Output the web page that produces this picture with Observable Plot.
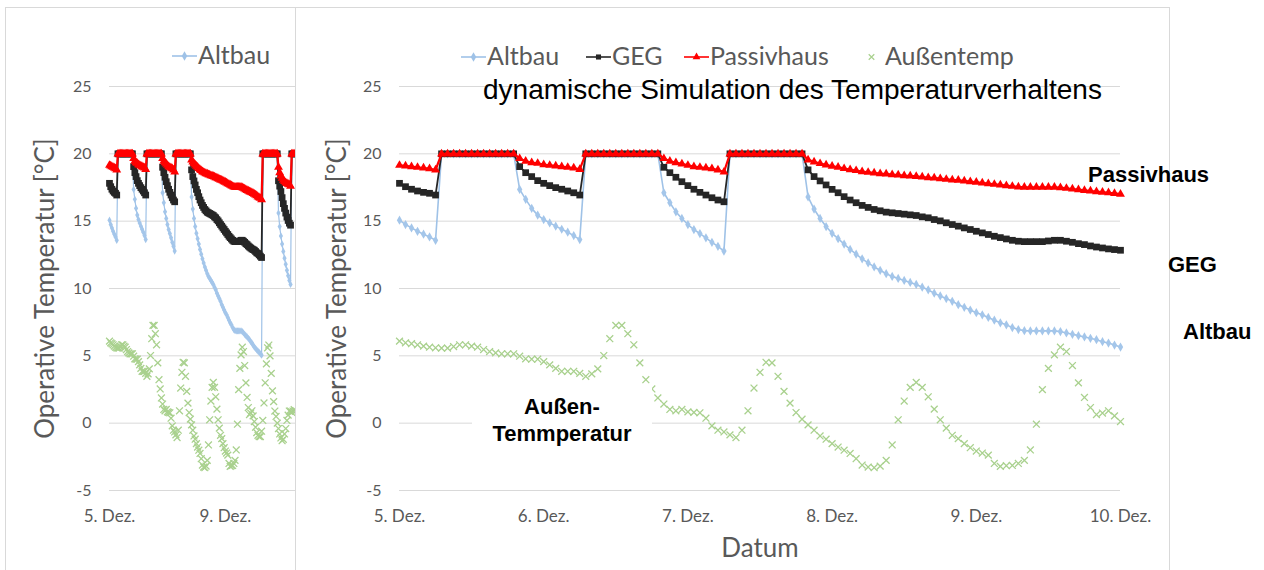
<!DOCTYPE html>
<html><head><meta charset="utf-8">
<script src="https://cdn.jsdelivr.net/npm/d3@7"></script>
<script src="https://cdn.jsdelivr.net/npm/@observablehq/plot@0.6"></script>
<style>
body{margin:0;background:#fff;}
#wrap{position:relative;width:1264px;height:570px;overflow:hidden;background:#fff;font-family:Lato,"Open Sans",sans-serif;}
.note{position:absolute;font-family:"Liberation Sans",Arial,sans-serif;font-weight:bold;font-size:22px;line-height:22px;color:#000;white-space:nowrap;}
.leg{position:absolute;font-family:Lato,"Open Sans",sans-serif;font-size:25px;color:#595959;white-space:nowrap;height:30px;line-height:30px;}
</style></head>
<body><div id="wrap"></div>
<script>
// ---------- data ----------
const hoursMain = d3.range(0, 121);          // hours since 5. Dez. 00:00
const hoursExt = d3.range(121, 155);         // continuation shown in left (cropped) chart
const dayTicks = [0, 24, 48, 72, 96, 120];
const dayLabels = ["5. Dez.", "6. Dez.", "7. Dez.", "8. Dez.", "9. Dez.", "10. Dez."];
const leftTicks = [0, 96];
const leftLabels = ["5. Dez.", "9. Dez."];
const yTicks = [-5, 0, 5, 10, 15, 20, 25];
const yLabels = ["-5", "0", "5", "10", "15", "20", "25"];
const seriesNames = ["Altbau", "GEG", "Passivhaus", "Außentemp"];

const altbau = [15.07, 14.75, 14.5, 14.25, 14.03, 13.83, 13.58,
  20, 20, 20, 20, 20, 20, 20, 20, 20, 20, 20, 20, 20,
  17.36, 16.62, 15.95, 15.45, 15.12, 14.87, 14.63, 14.40, 14.18, 13.93, 13.63,
  20, 20, 20, 20, 20, 20, 20, 20, 20, 20, 20, 20, 20,
  17.11, 16.37, 15.69, 15.20, 14.75, 14.38, 14.08, 13.76, 13.43, 13.13, 12.78,
  20, 20, 20, 20, 20, 20, 20, 20, 20, 20, 20, 20, 20,
  16.8, 15.9, 15.2, 14.6, 14.1, 13.7, 13.3, 12.9, 12.55, 12.2, 11.9, 11.6, 11.35, 11.1, 10.9, 10.75, 10.6, 10.45, 10.3, 10.1,
  9.9, 9.65, 9.45, 9.25, 9.05, 8.8, 8.6, 8.4, 8.2, 8.05, 7.85, 7.65, 7.45, 7.3, 7.1, 6.95, 6.87, 6.85, 6.85, 6.85,
  6.85, 6.85, 6.8, 6.7, 6.6, 6.5, 6.4, 6.3, 6.2, 6.05, 5.95, 5.8, 5.65];
const geg = [17.81, 17.56, 17.37, 17.24, 17.14, 17.07, 16.94,
  20, 20, 20, 20, 20, 20, 20, 20, 20, 20, 20, 20, 20,
  19.05, 18.6, 18.31, 18.01, 17.81, 17.64, 17.49, 17.37, 17.24, 17.11, 16.94,
  20, 20, 20, 20, 20, 20, 20, 20, 20, 20, 20, 20, 20,
  19.0, 18.6, 18.26, 17.93, 17.64, 17.37, 17.14, 16.94, 16.74, 16.57, 16.44,
  20, 20, 20, 20, 20, 20, 20, 20, 20, 20, 20, 20, 20,
  18.81, 18.31, 17.99, 17.69, 17.36, 17.11, 16.82, 16.57, 16.37, 16.17, 16.02, 15.87, 15.77, 15.67, 15.62, 15.57, 15.52, 15.47, 15.42, 15.32,
  15.25, 15.12, 15.02, 14.88, 14.75, 14.63, 14.5, 14.38, 14.25, 14.13, 14.01, 13.88, 13.78, 13.68, 13.58, 13.51, 13.48, 13.48, 13.48, 13.48,
  13.53, 13.58, 13.58, 13.51, 13.43, 13.33, 13.26, 13.16, 13.08, 13.01, 12.94, 12.89, 12.84];
const passivhaus = [19.15, 19.1, 19.05, 19.0, 18.95, 18.9, 18.8,
  20, 20, 20, 20, 20, 20, 20, 20, 20, 20, 20, 20, 20,
  19.65, 19.45, 19.35, 19.3, 19.2, 19.15, 19.1, 19.05, 19.0, 18.95, 18.85,
  20, 20, 20, 20, 20, 20, 20, 20, 20, 20, 20, 20, 20,
  19.65, 19.45, 19.35, 19.25, 19.15, 19.05, 19.0, 18.95, 18.9, 18.8, 18.65,
  20, 20, 20, 20, 20, 20, 20, 20, 20, 20, 20, 20, 20,
  19.55, 19.40, 19.28, 19.18, 19.08, 19.01, 18.91, 18.83, 18.76, 18.68, 18.63, 18.58, 18.53, 18.51, 18.46, 18.43, 18.38, 18.36, 18.33, 18.28,
  18.23, 18.21, 18.16, 18.11, 18.06, 18.04, 17.99, 17.94, 17.89, 17.84, 17.79, 17.74, 17.69, 17.64, 17.59, 17.54, 17.52, 17.52, 17.52, 17.52,
  17.52, 17.52, 17.49, 17.44, 17.39, 17.34, 17.29, 17.24, 17.19, 17.16, 17.11, 17.06, 17.01];
const aussentemp = [6.09, 5.97, 5.9, 5.82, 5.72, 5.64, 5.6, 5.57, 5.57, 5.69, 5.82, 5.82, 5.72, 5.64, 5.47, 5.32, 5.22, 5.15, 5.15, 5.15,
  4.97, 4.78, 4.75, 4.75, 4.57, 4.33, 4.07, 3.85, 3.85, 3.85, 3.7, 3.48, 3.66, 4.03, 5.02, 6.27, 7.26, 7.26,
  6.64, 5.82, 4.48, 3.23, 2.54, 1.87, 1.42, 1.02, 0.92, 1.02, 0.84, 0.8, 0.77, 0.37, -0.2, -0.52, -0.65, -0.87, -1.07, -0.52,
  0.92, 2.61, 3.78, 4.52, 4.48, 3.48, 2.36, 1.49, 0.79, 0.3, -0.13, -0.52, -0.95, -1.19, -1.52, -1.77, -2.01,
  -2.25, -2.64, -3.11, -3.26, -3.31, -3.19, -2.76, -1.62, 0.25, 1.64, 2.66, 3.03, 2.66, 1.96, 1.04, 0.25, -0.37, -0.9, -1.15, -1.52,
  -1.82, -2.07, -2.22, -2.37, -2.99, -3.21, -3.16, -3.14, -2.99, -2.76, -1.99, -0.08, 2.49, 4.07, 5.07, 5.64, 5.32, 4.28, 2.99, 1.91,
  1.16, 0.64, 0.75, 0.92, 0.54, 0.12];

// continuation (hours 121-154), only visible in the left, cropped chart
const altbauExt = [5.55, 5.45, 5.35, 5.25, 5.15, 5.05, 20, 20, 20, 20, 20, 20, 20, 20, 20, 20, 20, 20, 20,
  15.6, 14.6, 13.9, 13.3, 12.75, 12.25, 11.8, 11.35, 10.95, 10.6, 10.3, 20, 20, 20, 20];
const gegExt = [12.75, 12.65, 12.6, 12.5, 12.4, 12.3, 20, 20, 20, 20, 20, 20, 20, 20, 20, 20, 20, 20, 20,
  18.0, 17.6, 17.2, 16.75, 16.3, 15.95, 15.6, 15.3, 15.05, 14.85, 14.7, 20, 20, 20, 20];
const passivExt = [16.95, 16.9, 16.8, 16.75, 16.7, 16.6, 20, 20, 20, 20, 20, 20, 20, 20, 20, 20, 20, 20, 20,
  19.0, 18.6, 18.35, 18.2, 18.05, 17.95, 17.85, 17.8, 17.75, 17.7, 17.6, 20, 20, 20, 20];
const aussenExt = [-0.3, -0.7, -0.9, -1.0, -1.0, -0.6, 0.2, 1.5, 3.0, 4.4, 5.6, 5.8, 5.0, 3.7, 2.4, 1.6, 0.9, 0.5, 0.0, -0.4,
  -0.8, -1.1, -1.3, -1.2, -0.8, -0.4, 0.2, 0.6, 0.9, 0.9, 0.8, 0.9, 1.0, 0.9];

// ---------- styles ----------
const colors = {Altbau: "#9fc2e7", GEG: "#262626", Passivhaus: "#ff0000", "Außentemp": "#a9d18e"};
const grid = "#d9d9d9", textGray = "#595959";

function rows(hrs, vals) { return vals.map((v, i) => ({h: hrs[i], v})); }

function seriesMarks(alt, ge, pa, au, small) {
  return [
    Plot.line(alt, {x: "h", y: "v", stroke: colors.Altbau, strokeWidth: small ? 1.2 : 1.6}),
    Plot.dot(alt, {x: "h", y: "v", symbol: "diamond", r: small ? 2.2 : 2.8, fill: "#a4c6ea"}),
    Plot.line(ge, {x: "h", y: "v", stroke: colors.GEG, strokeWidth: 1.8}),
    Plot.dot(ge, {x: "h", y: "v", symbol: "square", r: 3.8, fill: colors.GEG}),
    Plot.line(pa, {x: "h", y: "v", stroke: colors.Passivhaus, strokeWidth: 2.2}),
    Plot.dot(pa, {x: "h", y: "v", symbol: "triangle", r: 3.3, fill: colors.Passivhaus}),
    Plot.dot(au, {x: "h", y: "v", symbol: "times", r: 3.2, stroke: colors["Außentemp"], strokeWidth: 1.3})
  ];
}

function axes(ticks, labels) {
  return [
    Plot.ruleY(yTicks, {stroke: grid, strokeWidth: 1}),
    Plot.axisY({ticks: yTicks, tickSize: 0, tickPadding: 18, fontSize: 16, label: null,
      tickFormat: d => yLabels[yTicks.indexOf(d)]}),
    Plot.axisX({ticks, tickSize: 0, tickPadding: 19, fontSize: 17, label: null,
      tickFormat: d => labels[ticks.indexOf(d)]}),
  ];
}

const wrap = document.getElementById("wrap");
function addDiv(css, html) {
  const d = document.createElement("div");
  d.style.cssText = "position:absolute;" + css;
  d.innerHTML = html || "";
  wrap.appendChild(d);
  return d;
}

// panel borders
addDiv("left:5px;top:7px;width:290px;height:600px;border-left:1px solid #d9d9d9;border-top:1px solid #d9d9d9;box-sizing:border-box;");
addDiv("left:295px;top:7px;width:875px;height:600px;border:1px solid #d9d9d9;box-sizing:border-box;");

// left (cropped) chart
const hAll = hoursMain.concat(hoursExt);
const leftChart = Plot.plot({
  width: 290, height: 563,
  marginLeft: 104, marginRight: 0, marginTop: 79, marginBottom: 80,
  style: {fontFamily: "Lato, 'Open Sans', sans-serif", color: textGray, background: "transparent", overflow: "hidden"},
  x: {domain: [0, 154.1]},
  y: {domain: [-5, 25]},
  marks: [
    ...axes(leftTicks, leftLabels),
    ...seriesMarks(rows(hAll, altbau.concat(altbauExt)), rows(hAll, geg.concat(gegExt)),
      rows(hAll, passivhaus.concat(passivExt)), rows(hAll, aussentemp.concat(aussenExt)), true),
    Plot.text(["Operative Temperatur [°C]"], {text: d => d, frameAnchor: "left", textAnchor: "middle",
      rotate: -90, dx: -64, fontSize: 26, fill: textGray})
  ]
});
const lw = addDiv("left:5px;top:7px;width:290px;height:563px;overflow:hidden;");
lw.appendChild(leftChart);

// main chart
const mainChart = Plot.plot({
  width: 875, height: 563,
  marginLeft: 104, marginRight: 50, marginTop: 79, marginBottom: 80,
  style: {fontFamily: "Lato, 'Open Sans', sans-serif", color: textGray, background: "transparent", overflow: "visible"},
  x: {domain: [0, 120]},
  y: {domain: [-5, 25]},
  marks: [
    ...axes(dayTicks, dayLabels),
    ...seriesMarks(rows(hoursMain, altbau), rows(hoursMain, geg), rows(hoursMain, passivhaus), rows(hoursMain, aussentemp), false),
    Plot.text(["Operative Temperatur [°C]"], {text: d => d, frameAnchor: "left", textAnchor: "middle",
      rotate: -90, dx: -62, fontSize: 26, fill: textGray}),
    Plot.text(["Datum"], {text: d => d, frameAnchor: "bottom", dy: 66, fontSize: 26, fill: textGray})
  ]
});
const mw = addDiv("left:295px;top:7px;width:875px;height:563px;");
mw.appendChild(mainChart);

// legends
function legendItem(x0, yc, label, withLine) {
  const c = colors[label];
  const sym = {Altbau: d3.symbolDiamond, GEG: d3.symbolSquare, Passivhaus: d3.symbolTriangle, "Außentemp": d3.symbolTimes}[label];
  const path = d3.symbol(sym, label === "Außentemp" ? 22 : 26)();
  const paint = label === "Außentemp" ? `fill="none" stroke="${c}" stroke-width="1.2"` : `fill="${c}"`;
  const w = 25;
  addDiv(`left:${x0}px;top:${yc - 7}px;width:${w}px;height:14px;`,
    `<svg width="${w}" height="14" style="overflow:visible">` +
    (withLine ? `<line x1="0" x2="${w}" y1="7" y2="7" stroke="${c}" stroke-width="1.6"/>` : "") +
    `<path transform="translate(${w / 2},7)" d="${path}" ${paint}/></svg>`);
  const t = addDiv(`left:${x0 + w + 1}px;top:${yc - 15}px;`, label);
  t.className = "leg";
}
legendItem(172, 54, seriesNames[0], true);
legendItem(461, 55, seriesNames[0], true);
legendItem(586, 55, seriesNames[1], true);
legendItem(684, 55, seriesNames[2], true);
legendItem(859, 55, seriesNames[3], false);

// annotations
addDiv("left:483px;top:76px;font-family:'Liberation Sans',Arial,sans-serif;font-size:28px;line-height:28px;color:#000;white-space:nowrap;",
  "dynamische Simulation des Temperaturverhaltens");
addDiv("left:1088px;top:164px;", "Passivhaus").className = "note";
addDiv("left:1168px;top:254px;", "GEG").className = "note";
addDiv("left:1183px;top:321px;", "Altbau").className = "note";
addDiv("left:472px;top:384px;width:180px;height:70px;background:#fff;padding-top:9px;box-sizing:border-box;text-align:center;font-family:'Liberation Sans',Arial,sans-serif;font-weight:bold;font-size:22px;line-height:27px;color:#000;",
  "Außen-<br>Temmperatur");
</script>
</body></html>
